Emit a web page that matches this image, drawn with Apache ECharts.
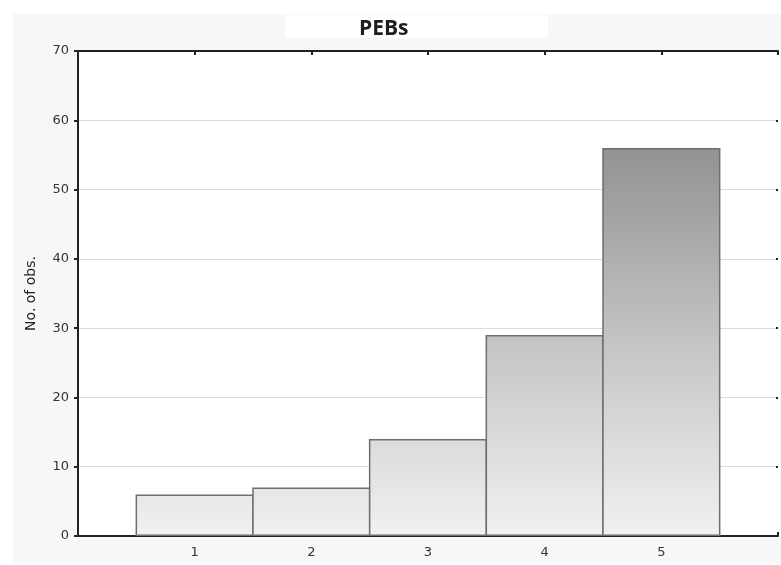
<!DOCTYPE html>
<html>
<head>
<meta charset="utf-8">
<script src="https://cdn.jsdelivr.net/npm/echarts@6/dist/echarts.min.js"></script>
<style>
html,body{margin:0;padding:0;background:#fff;}
#chart{width:781px;height:565px;}
</style>
</head>
<body>
<div id="chart"></div>
<script>
var categories = ['1', '2', '3', '4', '5'];
var counts = [6, 7, 14, 29, 56];
var yTicks = [0, 10, 20, 30, 40, 50, 60, 70];
var titleText = 'PEBs';
var yName = 'No. of obs.';

// pad one empty slot on each side so categories sit at 1..5 of a 0..6 span
var axisData = [''].concat(categories).concat(['']);
var seriesData = [null].concat(counts).concat([null]);

var chart = echarts.init(document.getElementById('chart'), null, {renderer: 'canvas'});

var gridTop = 51, gridBottom = 29, gridLeft = 78, gridRight = 1;

var option = {
  animation: false,
  backgroundColor: '#ffffff',
  graphic: [
    {type: 'rect', z: -10, shape: {x: 13, y: 14, width: 768, height: 550}, style: {fill: '#f7f7f7'}},
    {type: 'rect', z: -9, shape: {x: 285, y: 15, width: 263, height: 23}, style: {fill: '#ffffff'}},
    {type: 'rect', z: -8, shape: {x: gridLeft, y: gridTop, width: 781 - gridLeft - gridRight, height: 565 - gridTop - gridBottom}, style: {fill: '#ffffff'}}
  ],
  title: {
    text: titleText,
    left: 354,
    top: 14,
    textStyle: {fontFamily: 'Open Sans', fontWeight: 'bold', fontSize: 21, color: '#1e1e1e'}
  },
  grid: {left: gridLeft, right: gridRight, top: gridTop, bottom: gridBottom, containLabel: false},
  xAxis: [
    {
      type: 'category',
      data: axisData,
      boundaryGap: false,
      position: 'bottom',
      axisLine: {show: true, onZero: false, lineStyle: {color: '#222', width: 2}},
      axisTick: {show: true, inside: true, length: 4, lineStyle: {color: '#222', width: 2}},
      axisLabel: {color: '#333', fontFamily: 'DejaVu Sans', fontSize: 13, margin: 10},
      splitLine: {show: false}
    },
    {
      type: 'category',
      data: axisData,
      boundaryGap: false,
      position: 'top',
      axisLine: {show: true, onZero: false, lineStyle: {color: '#222', width: 2}},
      axisTick: {show: true, inside: true, length: 4, lineStyle: {color: '#222', width: 2}},
      axisLabel: {show: false},
      splitLine: {show: false}
    }
  ],
  yAxis: [
    {
      type: 'value',
      min: yTicks[0],
      max: yTicks[yTicks.length - 1],
      interval: 10,
      name: yName,
      nameLocation: 'middle',
      nameGap: 40,
      nameRotate: 90,
      nameTextStyle: {color: '#1e1e1e', fontFamily: 'DejaVu Sans', fontSize: 14},
      axisLine: {show: true, lineStyle: {color: '#222', width: 2}},
      axisTick: {show: true, inside: false, length: 4, lineStyle: {color: '#222', width: 2}},
      axisLabel: {color: '#333', fontFamily: 'DejaVu Sans', fontSize: 13, margin: 9},
      splitLine: {show: true, lineStyle: {color: '#dcdcdc', width: 1}}
    },
    {
      type: 'value',
      min: yTicks[0],
      max: yTicks[yTicks.length - 1],
      interval: 10,
      position: 'right',
      axisLine: {show: false},
      axisTick: {show: true, inside: true, length: 2, lineStyle: {color: '#222', width: 2}},
      axisLabel: {show: false},
      splitLine: {show: false}
    }
  ],
  series: [{
    type: 'bar',
    data: seriesData,
    barWidth: '101.3%',
    barCategoryGap: 0,
    itemStyle: {
      color: {
        type: 'linear', global: true,
        x: 0, y: 148, x2: 0, y2: 536,
        colorStops: [
          {offset: 0, color: '#929292'},
          {offset: 0.5, color: '#c4c4c4'},
          {offset: 1, color: '#f1f1f1'}
        ]
      },
      borderColor: '#6e6e6e',
      borderWidth: 1.5
    }
  }]
};
chart.setOption(option);
</script>
</body>
</html>
